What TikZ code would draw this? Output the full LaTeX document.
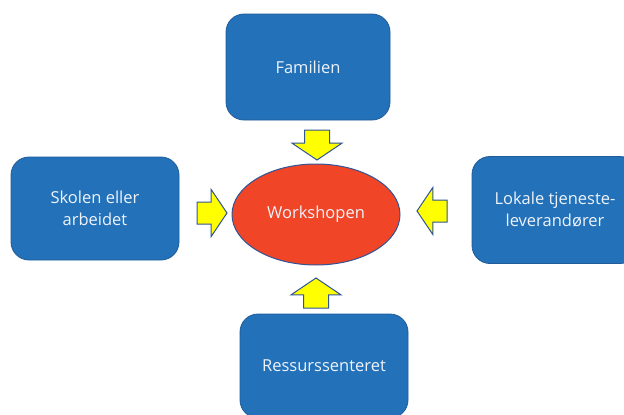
\documentclass[tikz,border=0pt]{standalone}
\usepackage{fontspec}
\setmainfont{Open Sans}
\usetikzlibrary{shapes.geometric,shapes.arrows}
\definecolor{BoxBlue}{HTML}{2271B9}
\definecolor{BoxEdge}{HTML}{1F5C99}
\definecolor{Hub}{HTML}{F04526}
\definecolor{HubEdge}{HTML}{2F5597}
\definecolor{Pale}{HTML}{EEF3FA}
\definecolor{Push}{HTML}{FFFF00}

\begin{document}
\begin{tikzpicture}[x=1pt,y=-1pt,font=\fontsize{16.5}{22}\selectfont,
  every node/.style={align=center,text=Pale},
  party/.style={draw=BoxEdge,line width=0.8pt,fill=BoxBlue,rounded corners=18pt,inner sep=0pt},
  push/.style={single arrow,draw=HubEdge,line width=1pt,fill=Push,
    minimum height=30pt,single arrow head extend=12.5pt,single arrow tip angle=112,anchor=tail,outer sep=0pt},
  pushh/.style={push,inner xsep=4pt,inner ysep=10.5pt},
  pushv/.style={push,inner xsep=12pt,inner ysep=4pt}]
  \useasboundingbox (0,0) rectangle (624,415);
  \node[party,minimum width=164pt,minimum height=106pt] (fam) at (308,67) {Familien};
  \node[party,minimum width=168pt,minimum height=103pt] (skole) at (95,208.5) {Skolen eller\\arbeidet};
  \node[party,minimum width=166pt,minimum height=107pt] (lokal) at (555,210) {Lokale tjeneste-\\leverandører};
  \node[party,minimum width=168pt,minimum height=104pt] (ress) at (324,366) {Ressurssenteret};
  \node[ellipse,draw=HubEdge,line width=1pt,fill=Hub,minimum width=168pt,minimum height=101pt,inner sep=0pt] (ws) at (316,214.5) {Workshopen};
  \node[pushv,shape border rotate=270] (pfam) at (317,130) {};
  \node[pushh,shape border rotate=0] (pskole) at (197,213) {};
  \node[pushh,shape border rotate=180] (plokal) at (447,211) {};
  \node[pushv,shape border rotate=90] (press) at (316,308) {};
\end{tikzpicture}
\end{document}
